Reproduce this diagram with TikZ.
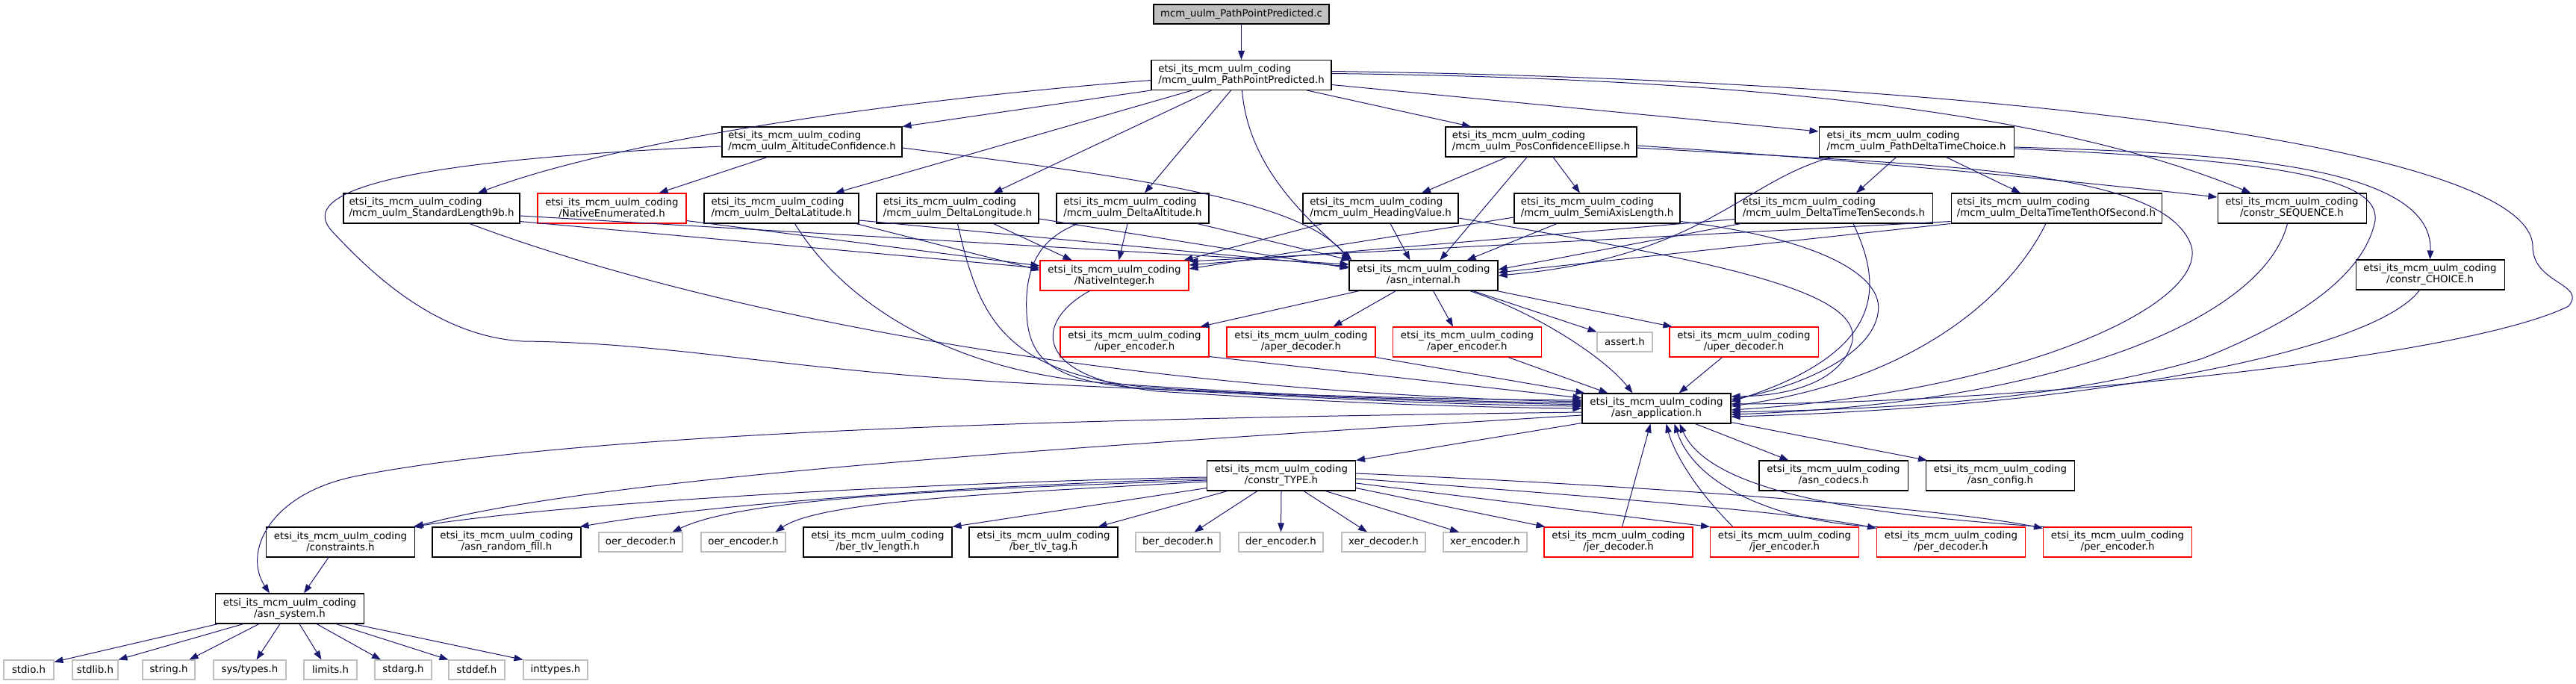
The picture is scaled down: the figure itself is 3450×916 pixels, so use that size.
\documentclass[tikz,border=0pt]{standalone}
\usepackage{fontspec}
\setmainfont{DejaVu Sans}
\usetikzlibrary{arrows.meta,calc}
\definecolor{edgec}{HTML}{191970}
\definecolor{greyS}{HTML}{BFBFBF}
\newcommand\etsiname{etsi\_its\_mcm\_uulm\_coding}
\newcommand\dxl[2]{\setbox0=\hbox{#1}\setbox2=\hbox{#2}%
  \ifdim\wd0>\wd2 \dimen0=\wd0 \else \dimen0=\wd2 \fi
  \vbox{\hbox to\dimen0{\box0\hfil}\hbox to\dimen0{\hfil\box2\hfil}}}
\tikzset{
  nb/.style={draw=black, fill=white, line width=0.8pt, inner sep=0pt, minimum height=30pt,
             font=\fontsize{10}{11.25}\selectfont},
  rb/.style={nb, draw=red},
  gb/.style={nb, draw=greyS, minimum height=19.5pt},
  tb/.style={nb, fill=greyS, minimum height=19.5pt},
  bw/.style={minimum width=#1*0.75pt},
  dep/.style={draw=edgec, line width=0.75pt, -{Triangle[length=9pt,width=6.5pt]}}
}
\begin{document}
\begin{tikzpicture}[x=0.75pt,y=-0.75pt]
\fill[white] (0,0) rectangle (3450,916);
\useasboundingbox (0,0) rectangle (3450,916);
% ---------- nodes ----------
\node[tb,bw=235] (top) at (1662.5,19) {mcm\_uulm\_PathPointPredicted.c};
\node[nb,bw=241] (ppp) at (1662.5,100.5) {\dxl{\etsiname}{/mcm\_uulm\_PathPointPredicted.h}};
\node[nb,bw=241] (altconf) at (1087.5,190) {\dxl{\etsiname}{/mcm\_uulm\_AltitudeConfidence.h}};
\node[nb,bw=256] (posconf) at (2064,190) {\dxl{\etsiname}{/mcm\_uulm\_PosConfidenceEllipse.h}};
\node[nb,bw=261] (pdtc) at (2566.5,190) {\dxl{\etsiname}{/mcm\_uulm\_PathDeltaTimeChoice.h}};
\node[nb,bw=236] (stdlen) at (578,279) {\dxl{\etsiname}{/mcm\_uulm\_StandardLength9b.h}};
\node[rb,bw=199] (natenum) at (819.5,279) {\dxl{\etsiname}{/NativeEnumerated.h}};
\node[nb,bw=207] (dlat) at (1046.5,279) {\dxl{\etsiname}{/mcm\_uulm\_DeltaLatitude.h}};
\node[nb,bw=217] (dlon) at (1282.5,279) {\dxl{\etsiname}{/mcm\_uulm\_DeltaLongitude.h}};
\node[nb,bw=204] (dalt) at (1517,279) {\dxl{\etsiname}{/mcm\_uulm\_DeltaAltitude.h}};
\node[nb,bw=208] (heading) at (1849,279) {\dxl{\etsiname}{/mcm\_uulm\_HeadingValue.h}};
\node[nb,bw=222] (semi) at (2139,279) {\dxl{\etsiname}{/mcm\_uulm\_SemiAxisLength.h}};
\node[nb,bw=264] (dtten) at (2456,279) {\dxl{\etsiname}{/mcm\_uulm\_DeltaTimeTenSeconds.h}};
\node[nb,bw=282] (dttenth) at (2754,279) {\dxl{\etsiname}{/mcm\_uulm\_DeltaTimeTenthOfSecond.h}};
\node[nb,bw=199] (seq) at (3069.5,279) {\dxl{\etsiname}{/constr\_SEQUENCE.h}};
\node[rb,bw=199] (natint) at (1492.5,369) {\dxl{\etsiname}{/NativeInteger.h}};
\node[nb,bw=199] (asnint) at (1906.5,369) {\dxl{\etsiname}{/asn\_internal.h}};
\node[nb,bw=199] (choice) at (3254.5,368) {\dxl{\etsiname}{/constr\_CHOICE.h}};
\node[rb,bw=199] (uperenc) at (1519.5,458) {\dxl{\etsiname}{/uper\_encoder.h}};
\node[rb,bw=199] (aperdec) at (1742.5,458) {\dxl{\etsiname}{/aper\_decoder.h}};
\node[rb,bw=199] (aperenc) at (1965,458) {\dxl{\etsiname}{/aper\_encoder.h}};
\node[gb,bw=74] (assert) at (2176,458) {assert.h};
\node[rb,bw=199] (uperdec) at (2335.5,458) {\dxl{\etsiname}{/uper\_decoder.h}};
\node[nb,bw=199] (asnapp) at (2218.5,547) {\dxl{\etsiname}{/asn\_application.h}};
\node[nb,bw=199] (ctype) at (1716,637) {\dxl{\etsiname}{/constr\_TYPE.h}};
\node[nb,bw=199] (codecs) at (2455.5,637) {\dxl{\etsiname}{/asn\_codecs.h}};
\node[nb,bw=199] (config) at (2679,637) {\dxl{\etsiname}{/asn\_config.h}};
\node[nb,bw=199] (constraints) at (456,726) {\dxl{\etsiname}{/constraints.h}};
\node[nb,bw=199] (randfill) at (678.5,726) {\dxl{\etsiname}{/asn\_random\_fill.h}};
\node[gb,bw=112] (oerdec) at (858,726) {oer\_decoder.h};
\node[gb,bw=113] (oerenc) at (995.5,726) {oer\_encoder.h};
\node[nb,bw=199] (bertlvlen) at (1175.5,726) {\dxl{\etsiname}{/ber\_tlv\_length.h}};
\node[nb,bw=199] (bertlvtag) at (1397.5,726) {\dxl{\etsiname}{/ber\_tlv\_tag.h}};
\node[gb,bw=113] (berdec) at (1577.5,726) {ber\_decoder.h};
\node[gb,bw=113] (derenc) at (1715.5,726) {der\_encoder.h};
\node[gb,bw=112] (xerdec) at (1853,726) {xer\_decoder.h};
\node[gb,bw=112] (xerenc) at (1989,726) {xer\_encoder.h};
\node[rb,bw=199] (jerdec) at (2167.5,726) {\dxl{\etsiname}{/jer\_decoder.h}};
\node[rb,bw=199] (jerenc) at (2390,726) {\dxl{\etsiname}{/jer\_encoder.h}};
\node[rb,bw=199] (perdec) at (2613,726) {\dxl{\etsiname}{/per\_decoder.h}};
\node[rb,bw=199] (perenc) at (2836,726) {\dxl{\etsiname}{/per\_encoder.h}};
\node[nb,bw=199] (asnsys) at (388,815) {\dxl{\etsiname}{/asn\_system.h}};
\node[gb,bw=67] (stdio) at (38.5,897) {stdio.h};
\node[gb,bw=61] (stdlib) at (127.5,897) {stdlib.h};
\node[gb,bw=70] (string) at (226,897) {string.h};
\node[gb,bw=97] (systypes) at (334.5,897) {sys/types.h};
\node[gb,bw=71] (limits) at (442.5,897) {limits.h};
\node[gb,bw=76] (stdarg) at (540,897) {stdarg.h};
\node[gb,bw=75] (stddef) at (638.5,897) {stddef.h};
\node[gb,bw=86] (inttypes) at (744,897) {inttypes.h};
% ---------- edges ----------
\draw[dep] (top) -- (ppp);
% PathPointPredicted.h
\draw[dep] (ppp.south west) -- (altconf.north east);
\draw[dep] ($(ppp.west)+(0,7)$) .. controls (1250,130) and (850,180) .. ($(stdlen.north)+(62,0)$);
\draw[dep] ($(ppp.south)+(-66,0)$) -- ($(dlat.north)+(72,0)$);
\draw[dep] ($(ppp.south)+(-40,0)$) -- ($(dlon.north)+(48,0)$);
\draw[dep] ($(ppp.south)+(-14,0)$) -- ($(dalt.north)+(16,0)$);
\draw[dep] ($(ppp.south)+(1,0)$) .. controls (1672,230) and (1760,300) .. ($(asnint.north west)+(4,0)$);
\draw[dep] ($(ppp.south)+(88,0)$) -- ($(posconf.north)+(-94,0)$);
\draw[dep] ($(ppp.east)+(0,13)$) -- ($(pdtc.west)+(0,-14)$);
\draw[dep] ($(ppp.east)+(0,-2)$) .. controls (2350,105) and (2750,150) .. ($(seq.north)+(-55,0)$);
\draw[dep] ($(ppp.east)+(0,-5)$) .. controls (2700,108) and (3390,200) .. (3392,330)
   .. controls (3392,380) and (3465,380) .. (3440,410)
   .. controls (3300,480) and (2700,540) .. ($(asnapp.east)+(0,-6)$);
% AltitudeConfidence.h
\draw[dep] ($(altconf.south)+(-60,0)$) -- ($(natenum.north)+(63,0)$);
\draw[dep] ($(altconf.east)+(0,8)$) .. controls (1500,235) and (1740,265) .. ($(asnint.north west)+(1,0)$);
\draw[dep] ($(altconf.west)+(0,6)$) .. controls (650,210) and (380,240) .. (445,310)
   .. controls (490,358) and (580,450) .. (700,457)
   .. controls (900,459) and (1050,495) .. (1350,512)
   .. controls (1700,530) and (1950,535) .. ($(asnapp.west)+(0,-11)$);
% StandardLength9b.h
\draw[dep] ($(stdlen.south)+(51,0)$) .. controls (950,420) and (1500,525) .. ($(asnapp.west)+(0,-9)$);
\draw[dep] ($(stdlen.south east)+(0,-3)$) -- ($(natint.west)+(0,-10)$);
\draw[dep] ($(stdlen.east)+(0,10)$) -- ($(asnint.west)+(0,-15)$);
% NativeEnumerated.h
\draw[dep] ($(natenum.south east)+(0,-4)$) -- ($(natint.west)+(0,-13)$);
% DeltaLatitude.h
\draw[dep] ($(dlat.south)+(18,0)$) .. controls (1120,390) and (1250,495) .. (1480,513)
   .. controls (1750,532) and (1950,537) .. ($(asnapp.west)+(0,-7)$);
\draw[dep] ($(dlat.south east)+(-4,0)$) -- ($(natint.west)+(0,-7)$);
\draw[dep] ($(dlat.east)+(0,16)$) -- ($(asnint.west)+(0,-12)$);
% DeltaLongitude.h
\draw[dep] (dlon.south) .. controls (1310,420) and (1340,500) .. (1540,519)
   .. controls (1800,535) and (1950,538) .. ($(asnapp.west)+(0,-5)$);
\draw[dep] ($(dlon.south)+(48,0)$) -- ($(natint.north west)+(43,0)$);
\draw[dep] ($(dlon.east)+(0,14)$) -- ($(asnint.west)+(0,-10)$);
% DeltaAltitude.h
\draw[dep] ($(dalt.south)+(-73,0)$) .. controls (1390,320) and (1372,360) .. (1375,420)
   .. controls (1378,490) and (1420,515) .. (1560,522)
   .. controls (1800,535) and (1950,542) .. ($(asnapp.west)+(0,-3)$);
\draw[dep] ($(dalt.south)+(-7,0)$) -- ($(natint.north)+(6,0)$);
\draw[dep] ($(dalt.south east)+(-16,0)$) -- ($(asnint.north west)+(2,0)$);
% HeadingValue.h
\draw[dep] ($(heading.south west)+(27,0)$) -- ($(natint.north east)+(-7,0)$);
\draw[dep] ($(heading.south)+(13,0)$) -- ($(asnint.north)+(-18,0)$);
\draw[dep] ($(heading.east)+(0,13)$) .. controls (2300,350) and (2500,390) .. (2480,460)
   .. controls (2465,510) and (2400,530) .. ($(asnapp.east)+(0,-16)$);
% SemiAxisLength.h
\draw[dep] ($(semi.west)+(0,12)$) -- ($(natint.east)+(0,-9)$);
\draw[dep] ($(semi.south)+(-54,0)$) -- ($(asnint.north)+(58,0)$);
\draw[dep] ($(semi.south east)+(0,-3)$) .. controls (2440,320) and (2525,370) .. (2515,420)
   .. controls (2505,480) and (2400,520) .. ($(asnapp.east)+(0,-12)$);
% DeltaTimeTenSeconds.h
\draw[dep] ($(dtten.south west)+(0,-6)$) -- ($(natint.east)+(0,-14)$);
\draw[dep] ($(dtten.south west)+(8,0)$) -- ($(asnint.east)+(0,-8)$);
\draw[dep] ($(dtten.south)+(26,0)$) .. controls (2520,380) and (2530,470) .. ($(asnapp.east)+(0,-9)$);
% DeltaTimeTenthOfSecond.h
\draw[dep] ($(dttenth.south west)+(0,-3)$) -- ($(natint.east)+(0,-19)$);
\draw[dep] (dttenth.south west) -- ($(asnint.east)+(0,-4)$);
\draw[dep] ($(dttenth.south)+(-14,0)$) .. controls (2690,400) and (2560,510) .. ($(asnapp.east)+(0,-3)$);
% PosConfidenceEllipse.h
\draw[dep] ($(posconf.south)+(-46,0)$) -- ($(heading.north)+(55,0)$);
\draw[dep] ($(posconf.south)+(-19,0)$) -- ($(asnint.north)+(22,0)$);
\draw[dep] ($(posconf.south)+(16,0)$) -- ($(semi.north)+(-23,0)$);
\draw[dep] ($(posconf.east)+(0,5)$) .. controls (2500,215) and (2800,245) .. ($(seq.west)+(0,-15)$);
\draw[dep] ($(posconf.east)+(0,8)$) .. controls (2600,222) and (2900,225) .. (2935,330)
   .. controls (2955,410) and (2700,525) .. ($(asnapp.east)+(0,2)$);
% PathDeltaTimeChoice.h
\draw[dep] ($(pdtc.south west)+(17,0)$) .. controls (2330,245) and (2280,345) .. (asnint.east);
\draw[dep] ($(pdtc.south)+(-27,0)$) -- ($(dtten.north)+(30,0)$);
\draw[dep] ($(pdtc.south)+(40,0)$) -- ($(dttenth.north)+(-48,0)$);
\draw[dep] ($(pdtc.east)+(0,7)$) .. controls (2950,205) and (3260,215) .. (choice.north);
\draw[dep] ($(pdtc.east)+(0,9)$) .. controls (3060,215) and (3195,240) .. (3180,300)
   .. controls (3165,360) and (3100,420) .. (2950,480)
   .. controls (2750,540) and (2500,548) .. ($(asnapp.east)+(0,5)$);
% constr_SEQUENCE.h, constr_CHOICE.h
\draw[dep] ($(seq.south)+(-6,0)$) .. controls (3030,430) and (2750,540) .. ($(asnapp.east)+(0,8)$);
\draw[dep] ($(choice.south)+(-14,0)$) .. controls (3180,470) and (2800,545) .. ($(asnapp.east)+(0,11)$);
% NativeInteger.h
\draw[dep] ($(natint.south)+(-33,0)$) .. controls (1385,430) and (1380,505) .. (1550,524)
   .. controls (1800,540) and (1950,545) .. (asnapp.west);
% asn_internal.h
\draw[dep] ($(asnint.south west)+(14,0)$) -- ($(uperenc.north east)+(-12,0)$);
\draw[dep] ($(asnint.south)+(-37,0)$) -- ($(aperdec.north)+(43,0)$);
\draw[dep] ($(asnint.south)+(13,0)$) -- ($(aperenc.north)+(-19,0)$);
\draw[dep] ($(asnint.south)+(66,0)$) -- (assert.north west);
\draw[dep] ($(asnint.south east)+(-2,0)$) -- ($(uperdec.north west)+(4,0)$);
\draw[dep] ($(asnint.south)+(62,0)$) .. controls (2060,420) and (2150,480) .. ($(asnapp.north)+(-32,0)$);
% encoders/decoders -> asn_application.h
\draw[dep] ($(uperenc.south east)+(0,-1)$) -- ($(asnapp.west)+(0,-14)$);
\draw[dep] (aperdec.south east) -- ($(asnapp.north west)+(4,0)$);
\draw[dep] ($(aperenc.south)+(55,0)$) -- ($(asnapp.north west)+(35,0)$);
\draw[dep] ($(uperdec.south west)+(71,0)$) -- ($(asnapp.north)+(30,0)$);
% asn_application.h
\draw[dep] ($(asnapp.south west)+(0,-1)$) -- (ctype.north east);
\draw[dep] ($(asnapp.south)+(52,0)$) -- ($(codecs.north)+(-60,0)$);
\draw[dep] ($(asnapp.south east)+(0,-2)$) -- ($(config.north west)+(2,0)$);
\draw[dep] ($(asnapp.west)+(0,5)$) .. controls (1500,560) and (800,575) .. (480,637)
   .. controls (360,660) and (325,740) .. ($(asnsys.north)+(-27,0)$);
\draw[dep] ($(asnapp.west)+(0,9)$) .. controls (1400,600) and (800,640) .. ($(constraints.north east)+(-1,0)$);
% constr_TYPE.h
\draw[dep] ($(ctype.west)+(0,2)$) .. controls (1300,645) and (800,668) .. ($(constraints.north east)+(-3,0)$);
\draw[dep] ($(ctype.west)+(0,4)$) .. controls (1300,650) and (950,675) .. ($(randfill.north east)+(-2,0)$);
\draw[dep] ($(ctype.west)+(0,6)$) .. controls (1300,655) and (1000,665) .. ($(oerdec.north east)+(-14,0)$);
\draw[dep] ($(ctype.west)+(0,8)$) .. controls (1350,660) and (1100,670) .. ($(oerenc.north east)+(-14,0)$);
\draw[dep] ($(ctype.south west)+(0,-4)$) -- (bertlvlen.north east);
\draw[dep] ($(ctype.south west)+(28,0)$) -- ($(bertlvtag.north east)+(-27,0)$);
\draw[dep] ($(ctype.south)+(-32,0)$) -- ($(berdec.north)+(22,0)$);
\draw[dep] (ctype.south) -- (derenc.north);
\draw[dep] ($(ctype.south)+(30,0)$) -- ($(xerdec.north)+(-22,0)$);
\draw[dep] ($(ctype.south)+(59,0)$) -- ($(xerenc.north)+(-35,0)$);
\draw[dep] ($(ctype.south east)+(0,-4)$) -- ($(jerdec.north west)+(2,0)$);
\draw[dep] ($(ctype.east)+(0,10)$) -- (jerenc.north west);
\draw[dep] ($(ctype.east)+(0,4)$) .. controls (2100,662) and (2400,685) .. ($(perdec.north west)+(0,2)$);
\draw[dep] ($(ctype.east)+(0,-3)$) .. controls (2200,650) and (2600,680) .. ($(perenc.north west)+(0,2)$);
% upward to asn_application.h
\draw[dep] ($(jerdec.north)+(5,0)$) -- ($(asnapp.south)+(-8,0)$);
\draw[dep] ($(jerenc.north west)+(31,0)$) .. controls (2265,650) and (2240,600) .. ($(asnapp.south)+(13,0)$);
\draw[dep] ($(perdec.north west)+(2,0)$) .. controls (2380,700) and (2270,650) .. ($(asnapp.south)+(24,0)$);
\draw[dep] ($(perenc.north west)+(2,0)$) .. controls (2500,690) and (2290,660) .. ($(asnapp.south)+(31,0)$);
% constraints.h
\draw[dep] ($(constraints.south)+(-16,0)$) -- ($(asnsys.north)+(19,0)$);
% asn_system.h
\draw[dep] ($(asnsys.south west)+(4,0)$) -- ($(stdio.north east)+(0,3)$);
\draw[dep] ($(asnsys.south west)+(38,0)$) -- (stdlib.north east);
\draw[dep] ($(asnsys.south west)+(59,0)$) -- ($(string.north east)+(-8,0)$);
\draw[dep] ($(asnsys.south)+(-13,0)$) -- ($(systypes.north)+(9,0)$);
\draw[dep] ($(asnsys.south)+(13,0)$) -- ($(limits.north)+(-12,0)$);
\draw[dep] ($(asnsys.south)+(36,0)$) -- ($(stdarg.north)+(-30,0)$);
\draw[dep] ($(asnsys.south east)+(-38,0)$) -- (stddef.north west);
\draw[dep] ($(asnsys.south east)+(-15,0)$) -- (inttypes.north west);
\end{tikzpicture}
\end{document}
